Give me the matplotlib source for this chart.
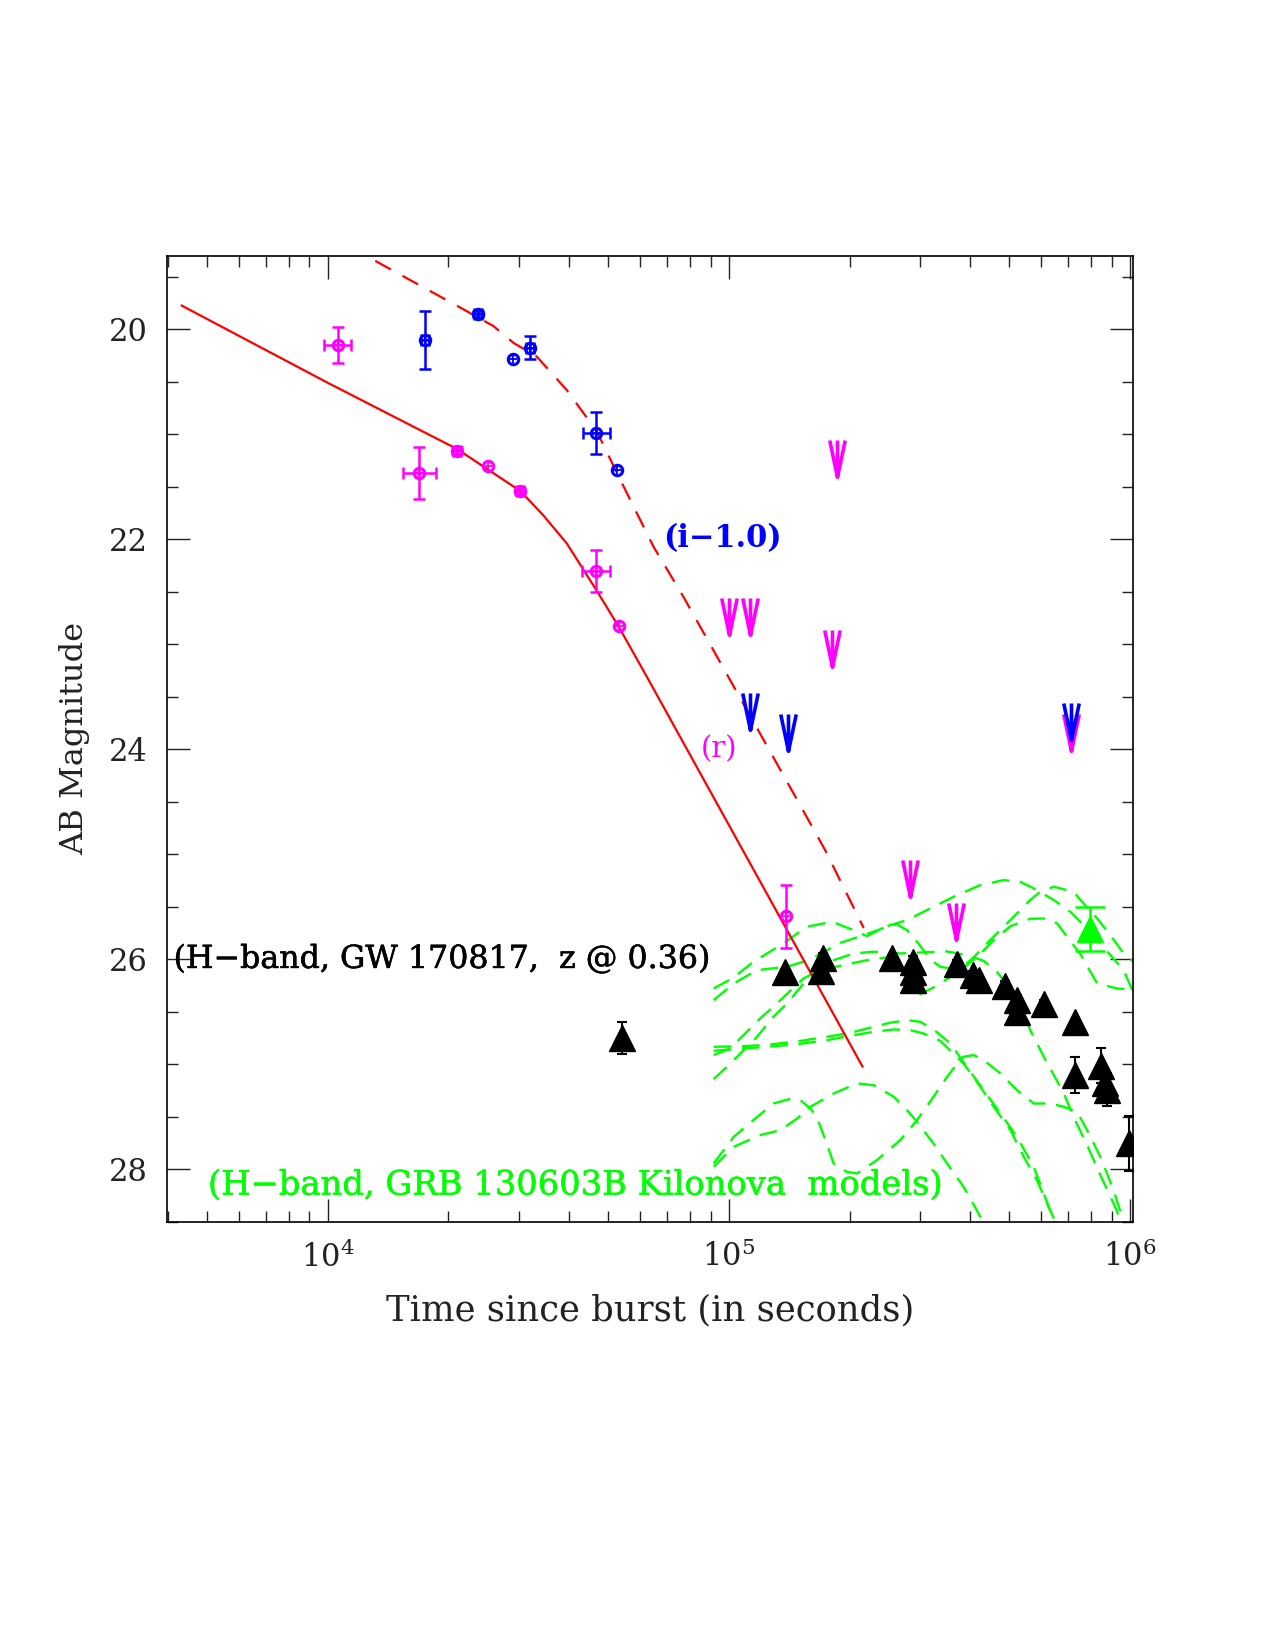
import numpy as np
import matplotlib
matplotlib.use('Agg')
import matplotlib.pyplot as plt
import matplotlib.patheffects as pe
from matplotlib.path import Path
from matplotlib.ticker import (LogLocator, MultipleLocator, NullFormatter,
                               LogFormatterMathtext)

plt.rcParams['font.family'] = ['DejaVu Serif', 'DejaVu Sans']
plt.rcParams['mathtext.fontset'] = 'dejavuserif'

nan = np.nan

# ---------------- data ----------------
# r-band detections (magenta)
r_t = [1.059e4, 1.69e4, 2.10e4, 2.51e4, 3.02e4, 4.67e4, 5.31e4, 1.387e5]
r_mag = [20.15, 21.37, 21.156, 21.30, 21.54, 22.30, 22.83, 25.59]
r_err = [0.17, 0.25, 0.03, nan, 0.03, 0.20, nan, 0.30]
r_xerr_dex = [0.034, 0.041, 0.010, nan, 0.010, 0.035, nan, nan]

# i-band (shifted by -1.0) detections (blue)
i_t = [1.75e4, 2.37e4, 2.90e4, 3.19e4, 4.67e4, 5.26e4]
i_mag = [20.10, 19.854, 20.286, 20.175, 20.985, 21.34]
i_err = [0.275, 0.03, nan, 0.11, 0.20, nan]
i_xerr_dex = [0.010, 0.010, nan, 0.010, 0.034, nan]

# upper limits
r_lim_t = [1.0e5, 1.126e5, 1.81e5, 1.86e5, 2.82e5, 3.68e5, 7.13e5]
r_lim_mag = [22.56, 22.56, 22.86, 21.05, 25.05, 25.46, 23.66]
i_lim_t = [1.126e5, 1.40e5, 7.13e5]
i_lim_mag = [23.46, 23.66, 23.56]

# H-band GW170817 at z=0.36 (black triangles)
h_t = [5.42e4, 1.376e5, 1.712e5, 1.694e5, 2.55e5, 2.88e5, 2.88e5, 2.88e5,
       3.70e5, 4.05e5, 4.20e5, 4.89e5, 5.22e5, 5.22e5, 6.09e5, 7.28e5,
       7.28e5, 8.44e5, 8.65e5, 8.76e5, 9.92e5]
h_mag = [26.75, 26.12, 25.99, 26.11, 25.99, 26.02, 26.12, 26.20,
         26.04, 26.15, 26.20, 26.25, 26.39, 26.50, 26.42, 26.60,
         27.10, 27.01, 27.18, 27.24, 27.75]
h_err = [0.15, 0.03, 0.05, 0.05, 0.03, 0.05, 0.05, 0.06,
         0.03, 0.04, 0.04, 0.04, 0.05, 0.10, 0.03, 0.03,
         0.175, 0.165, 0.10, 0.16, 0.26]

# GRB 130603B H-band detection (green)
g_t = [7.96e5]
g_mag = [25.71]
g_err = [0.21]

# afterglow model curves (red)
r_model_logt = [3.636, 4.0, 4.322, 4.48, 4.537, 4.596, 4.669, 4.725, 4.80, 5.333]
r_model_mag = [19.775, 20.51, 21.14, 21.54, 21.77, 22.04, 22.48, 22.83, 23.34, 27.02]
i_model_logt = [4.05, 4.095, 4.214, 4.338, 4.413, 4.463, 4.521, 4.596, 4.671,
                4.721, 4.812, 4.887, 5.003, 5.170, 5.240, 5.336]
i_model_mag = [19.21, 19.30, 19.55, 19.81, 19.97, 20.13, 20.26, 20.58, 20.975,
               21.37, 22.07, 22.55, 23.34, 24.48, 24.96, 25.70]

# kilonova model curves (green dashed)
kn1_logt = [4.962, 5.012, 5.061, 5.136, 5.194, 5.257, 5.311, 5.344, 5.394, 5.444,
            5.510, 5.560, 5.627, 5.685, 5.726, 5.760, 5.810, 5.851, 5.884, 5.918,
            5.951, 5.984, 6.009]
kn1_mag = [26.277, 26.172, 26.023, 25.848, 25.689, 25.642, 25.721, 25.778, 25.683, 25.626,
           25.499, 25.404, 25.292, 25.245, 25.261, 25.324, 25.435, 25.546, 25.673, 25.816,
           25.959, 26.102, 26.324]
kn2_logt = [4.962, 5.012, 5.070, 5.145, 5.203, 5.278, 5.336, 5.394, 5.419, 5.444,
            5.469, 5.502, 5.527, 5.577, 5.618, 5.660, 5.702, 5.751, 5.793, 5.818,
            5.843, 5.876, 5.918, 5.968, 6.009]
kn2_mag = [26.388, 26.229, 26.102, 26.070, 26.000, 25.842, 25.769, 25.689, 25.667, 25.721,
           25.832, 26.000, 26.070, 26.102, 25.981, 25.816, 25.683, 25.613, 25.610, 25.657,
           25.784, 25.949, 26.229, 26.277, 26.286]
kn3_logt = [4.962, 5.003, 5.045, 5.078, 5.120, 5.153, 5.186, 5.228, 5.286, 5.344,
            5.394, 5.427, 5.460, 5.477, 5.510, 5.560, 5.610, 5.643, 5.685, 5.718,
            5.751, 5.776, 5.810, 5.859, 5.884, 5.918, 5.951, 5.984, 6.009]
kn3_mag = [26.911, 26.848, 26.689, 26.562, 26.419, 26.299, 26.181, 26.102, 26.054, 26.007,
           25.981, 26.054, 26.229, 26.330, 26.267, 26.149, 25.981, 25.848, 25.689, 25.562,
           25.435, 25.356, 25.308, 25.356, 25.467, 25.610, 25.769, 25.943, 26.023]
kn4_logt = [4.962, 4.995, 5.037, 5.070, 5.111, 5.145, 5.178, 5.211, 5.261, 5.311,
            5.361, 5.427, 5.494, 5.544, 5.593, 5.635, 5.668, 5.702, 5.726, 5.751,
            5.785, 5.810, 5.835, 5.859, 5.893, 5.926, 5.959, 5.980]
kn4_mag = [27.140, 27.022, 26.864, 26.737, 26.546, 26.419, 26.267, 26.102, 26.007, 25.943,
           25.927, 25.943, 25.931, 25.924, 25.959, 26.013, 26.118, 26.277, 26.419, 26.673,
           26.927, 27.102, 27.277, 27.499, 27.768, 28.054, 28.324, 28.514]
kn5_logt = [4.962, 5.037, 5.095, 5.170, 5.244, 5.303, 5.361, 5.402, 5.444, 5.477,
            5.510, 5.552, 5.593, 5.635, 5.677, 5.718, 5.760, 5.785, 5.810, 5.818]
kn5_mag = [26.832, 26.826, 26.813, 26.781, 26.737, 26.699, 26.642, 26.603, 26.578, 26.594,
           26.667, 26.800, 27.022, 27.245, 27.467, 27.689, 27.975, 28.229, 28.483, 28.578]
kn6_logt = [4.962, 5.037, 5.095, 5.170, 5.244, 5.303, 5.361, 5.411, 5.452, 5.485,
            5.527, 5.585, 5.627, 5.660, 5.702, 5.735, 5.768, 5.793, 5.818]
kn6_mag = [26.870, 26.848, 26.832, 26.807, 26.769, 26.727, 26.689, 26.667, 26.673, 26.705,
           26.775, 26.991, 27.213, 27.403, 27.626, 27.880, 28.102, 28.324, 28.530]
kn7_logt = [4.962, 5.012, 5.061, 5.111, 5.157, 5.178, 5.203, 5.219, 5.244, 5.261,
            5.294, 5.319, 5.369, 5.427, 5.469, 5.510, 5.544, 5.569, 5.585, 5.610,
            5.635, 5.677, 5.718, 5.760, 5.801, 5.835, 5.868, 5.893, 5.926, 5.959, 5.980]
kn7_mag = [27.943, 27.689, 27.530, 27.372, 27.324, 27.340, 27.419, 27.499, 27.753, 27.943,
           28.023, 28.038, 27.911, 27.721, 27.530, 27.308, 27.118, 26.991, 26.927, 26.911,
           26.959, 27.086, 27.245, 27.372, 27.372, 27.403, 27.451, 27.626, 27.880, 28.197, 28.451]
kn8_logt = [4.962, 4.987, 5.012, 5.078, 5.128, 5.170, 5.203, 5.261, 5.319, 5.361,
            5.411, 5.444, 5.469, 5.510, 5.544, 5.585, 5.618, 5.635]
kn8_mag = [27.975, 27.880, 27.784, 27.673, 27.626, 27.515, 27.403, 27.277, 27.181, 27.197,
           27.308, 27.435, 27.546, 27.753, 27.943, 28.165, 28.388, 28.514]

kn_curves = [(kn1_logt, kn1_mag), (kn2_logt, kn2_mag), (kn3_logt, kn3_mag),
             (kn4_logt, kn4_mag), (kn5_logt, kn5_mag), (kn6_logt, kn6_mag),
             (kn7_logt, kn7_mag), (kn8_logt, kn8_mag)]

# ---------------- figure ----------------
fig = plt.figure(figsize=(12.75, 16.5), dpi=100)
ax = fig.add_axes([0.13098, 0.25939, 0.75765, 0.58564])
ax.set_xscale('log')
ax.set_xlim(3975, 1.017e6)
ax.set_ylim(28.5, 19.3)

MAG = '#ff00ff'
BLUE = '#0000ff'
RED = '#ff0000'
GREEN = '#00ff00'

# kilonova models
for lt, m in kn_curves:
    ax.plot(10 ** np.array(lt), m, color=GREEN, lw=1.7,
            linestyle=(0, (7.5, 4.5)), zorder=2)

# red afterglow models
ax.plot(10 ** np.array(r_model_logt), r_model_mag, color=RED, lw=1.6, zorder=3)
ax.plot(10 ** np.array(i_model_logt), i_model_mag, color=RED, lw=1.6,
        linestyle=(0, (8, 6)), zorder=3)


def xerr_abs(t, dex):
    t = np.asarray(t, float)
    d = np.asarray(dex, float)
    lo = t * (1 - 10 ** (-d))
    hi = t * (10 ** d - 1)
    return np.vstack([lo, hi])


def plot_points(t, mag, yerr, xdex, color):
    ax.errorbar(t, mag, yerr=np.asarray(yerr, float), xerr=xerr_abs(t, xdex),
                fmt='none', ecolor=color, elinewidth=1.8, capsize=4,
                capthick=1.8, zorder=5)
    ax.plot(t, mag, 'o', ms=7.5, mfc='none', mec=color, mew=2.2, zorder=6)
    ax.plot(t, mag, '+', ms=6, mec=color, mew=1.3, zorder=6)


plot_points(r_t, r_mag, r_err, r_xerr_dex, MAG)
plot_points(i_t, i_mag, i_err, i_xerr_dex, BLUE)

# upper-limit arrows
arrow = Path([(-0.21, 0.0), (0.0, -1.0), (0.21, 0.0), (0.0, 0.0), (0.0, -1.0)],
             [Path.MOVETO, Path.LINETO, Path.LINETO, Path.MOVETO, Path.LINETO])
ax.plot(r_lim_t, r_lim_mag, linestyle='none', marker=arrow, ms=53,
        mfc='none', mec=MAG, mew=2.6, zorder=6)
ax.plot(i_lim_t, i_lim_mag, linestyle='none', marker=arrow, ms=53,
        mfc='none', mec=BLUE, mew=2.6, zorder=7)

# H-band triangles
ax.errorbar(h_t, h_mag, yerr=h_err, fmt='none', ecolor='black', elinewidth=1.5,
            capsize=3.8, capthick=1.5, zorder=7)
ax.plot(h_t, h_mag, '^', ms=18.5, color='black', zorder=8)
ax.errorbar(g_t, g_mag, yerr=g_err, fmt='none', ecolor=GREEN, elinewidth=1.8,
            capsize=11, capthick=1.8, zorder=7)
ax.plot(g_t, g_mag, '^', ms=18.5, color=GREEN, zorder=8)

# annotations
ax.text(6.87e4, 21.99, '(i\u22121.0)', color=BLUE, fontsize=22,
        fontweight='bold', ha='left', va='center', zorder=9)
ax.text(8.5e4, 24.0, '(r)', color=MAG, fontsize=21, ha='left', va='center', zorder=9)
ax.text(4128, 26.0, '(H\u2212band, GW 170817,  z @ 0.36)', color='black',
        fontsize=22.8, ha='left', va='center', zorder=9,
        path_effects=[pe.withStroke(linewidth=0.4, foreground='black')])
ax.text(5029, 28.154, '(H\u2212band, GRB 130603B Kilonova  models)', color=GREEN,
        fontsize=24.3, ha='left', va='center', zorder=9,
        path_effects=[pe.withStroke(linewidth=0.4, foreground=GREEN)])

# axes styling
ax.xaxis.set_major_locator(LogLocator(base=10, numticks=10))
ax.xaxis.set_minor_locator(LogLocator(base=10, subs=np.arange(2, 10), numticks=20))
ax.xaxis.set_major_formatter(LogFormatterMathtext())
ax.xaxis.set_minor_formatter(NullFormatter())
ax.yaxis.set_major_locator(MultipleLocator(2))
ax.yaxis.set_minor_locator(MultipleLocator(0.5))
ax.tick_params(which='both', direction='in', top=True, right=True, width=1.0,
               color='#222222', labelcolor='#222222')
ax.tick_params(which='major', length=16.5, labelsize=22, pad=14)
ax.tick_params(which='minor', length=8)
for s in ax.spines.values():
    s.set_linewidth(1.2)

ax.set_xlabel('Time since burst (in seconds)', fontsize=25.5, labelpad=14,
              color='#222222')
ax.set_ylabel('AB Magnitude', fontsize=23, labelpad=13, color='#222222')

fig.savefig('out.png', dpi=100)
